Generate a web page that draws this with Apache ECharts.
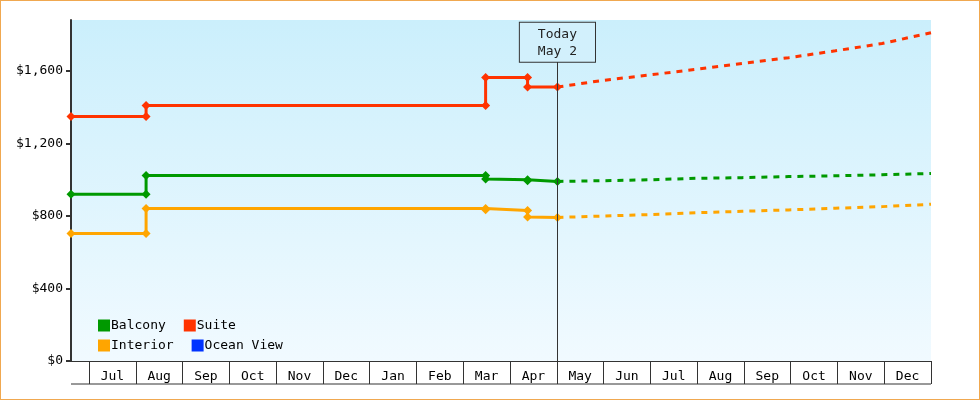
<!DOCTYPE html>
<html><head><meta charset="utf-8">
<script src="https://cdn.jsdelivr.net/npm/echarts@6/dist/echarts.min.js"></script>
<style>
html,body{margin:0;padding:0;background:#fff}
#c{width:978px;height:398px;border:1px solid #f0a850}
</style></head>
<body><div id="c"></div>
<script>
// months since Jul 1 (x), price (y)
const months = ['Jul','Aug','Sep','Oct','Nov','Dec','Jan','Feb','Mar','Apr','May','Jun','Jul','Aug','Sep','Oct','Nov','Dec'];
const yTicks = [0, 400, 800, 1200, 1600];
const todayX = 10.04;

const suiteHist = [[-0.39,1350],[1.22,1350],[1.22,1410],[8.5,1410],[8.5,1565],[9.4,1565],[9.4,1512],[10.04,1512]];
const suiteFcst = [[10.04,1512],[11,1548],[12,1578],[13,1610],[14,1642],[15,1674],[16,1712],[17,1752],[18.05,1812]];
const balconyHist = [[-0.39,920],[1.22,920],[1.22,1024],[8.5,1024],[8.5,1004],[9.4,1000],[9.4,995],[10.04,991]];
const balconyFcst = [[10.04,991],[11,995],[12,1000],[13,1008],[14,1012],[15,1018],[16,1022],[17,1028],[18.05,1035]];
const interiorHist = [[-0.39,703],[1.22,703],[1.22,842],[8.5,842],[8.5,835],[9.4,830],[9.4,795],[10.04,792]];
const interiorFcst = [[10.04,792],[11,800],[12,808],[13,818],[14,826],[15,834],[16,843],[17,852],[18.05,865]];

const colors = { Balcony:'#009900', Suite:'#ff3300', Interior:'#ffa500', 'Ocean View':'#0033ff' };
const font = 'DejaVu Sans Mono';

function hist(name, data) {
  return { name, type:'line', xAxisIndex:0, yAxisIndex:0, data, color:colors[name],
    symbol:'diamond', symbolSize:9, showSymbol:true,
    lineStyle:{width:3}, itemStyle:{color:colors[name]}, z:3 };
}
function fcst(name, data) {
  return { name, type:'line', xAxisIndex:0, yAxisIndex:0, data, color:colors[name],
    symbol:'none', lineStyle:{width:3, type:[6,6]}, z:3 };
}
const legendBase = {itemWidth:12, itemHeight:12, itemGap:18, icon:'rect',
  textStyle:{fontFamily:font, fontSize:13, color:'#000', padding:[0,0,0,-4], width:70}};

const chart = echarts.init(document.getElementById('c'));
chart.setOption({
  animation:false,
  textStyle:{fontFamily:font},
  grid:[
    {left:70, right:48, top:19, bottom:38, show:true, borderWidth:0,
     backgroundColor:new echarts.graphic.LinearGradient(0,0,0,1,[{offset:0,color:'#cbeffc'},{offset:1,color:'#f1faff'}])},
    {left:88, right:48, top:19, bottom:38}
  ],
  xAxis:[
    {type:'value', gridIndex:0, min:-0.39, max:18.05, splitLine:{show:false},
     axisLine:{show:true, onZero:false, lineStyle:{color:'#333'}}, axisTick:{show:false}, axisLabel:{show:false}},
    {type:'category', gridIndex:1, data:months, boundaryGap:true,
     axisLine:{show:true, lineStyle:{color:'#333', width:1}},
     axisTick:{show:true, length:23, lineStyle:{color:'#333'}, alignWithLabel:false},
     axisLabel:{color:'#000', fontFamily:font, fontSize:13, margin:9}}
  ],
  yAxis:[
    {type:'value', gridIndex:0, min:0, max:1882, interval:400,
     axisLine:{show:true, onZero:false, lineStyle:{color:'#333', width:2}},
     axisTick:{show:true, length:5, lineStyle:{color:'#333', width:2}},
     splitLine:{show:false},
     axisLabel:{color:'#000', fontFamily:font, fontSize:13, showMaxLabel:false,
       formatter:v=> yTicks.includes(v) ? '$'+v.toLocaleString('en-US') : ''}},
    {type:'value', gridIndex:1, show:false}
  ],
  legend:[
    Object.assign({left:92, top:313, data:['Balcony','Suite']}, legendBase),
    Object.assign({left:92, top:333, data:['Interior','Ocean View']}, legendBase)
  ],
  graphic:[{type:'line', shape:{x1:70, y1:383, x2:930, y2:383}, style:{stroke:'#333', lineWidth:1}}],
  series:[
    hist('Balcony', balconyHist), fcst('Balcony', balconyFcst),
    hist('Suite', suiteHist), fcst('Suite', suiteFcst),
    hist('Interior', interiorHist), fcst('Interior', interiorFcst),
    {name:'Ocean View', type:'line', data:[], color:colors['Ocean View']},
    {type:'line', data:[], xAxisIndex:0, yAxisIndex:0,
     markLine:{symbol:'none', silent:true, lineStyle:{color:'#333', width:1, type:'solid'},
       label:{show:true, position:'end', distance:0, formatter:'Today\nMay 2', color:'#222',
         fontFamily:font, fontSize:13, lineHeight:17, backgroundColor:'#d2f0fc',
         borderColor:'#333', borderWidth:1, padding:[3,18,2,18]},
       data:[[{coord:[todayX,0]},{coord:[todayX,1652]}]]}}
  ]
});
</script></body></html>
